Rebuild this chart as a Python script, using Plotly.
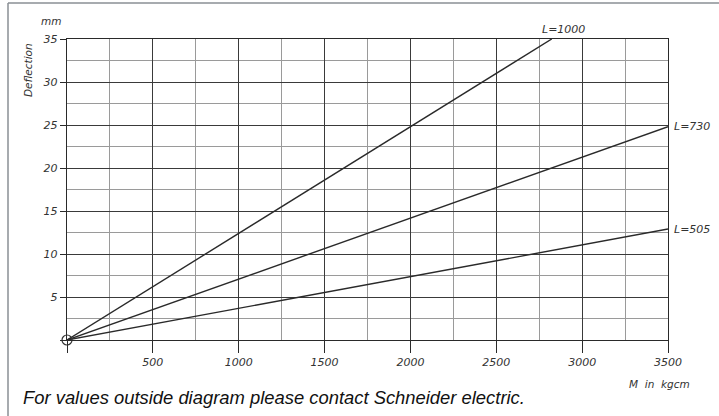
import plotly.graph_objects as go

# Data
series_names = ["L=1000", "L=730", "L=505"]
moment_end = [2823, 3500, 3500]       # M in kgcm at line end
deflection_end = [35.0, 24.8, 12.9]   # mm at line end
x_ticks = [0, 500, 1000, 1500, 2000, 2500, 3000, 3500]
x_ticklabels = ["", "500", "1000", "1500", "2000", "2500", "3000", "3500"]
y_ticks = [0, 5, 10, 15, 20, 25, 30, 35]
y_ticklabels = ["", "5", "10", "15", "20", "25", "30", "35"]

tick_font = dict(family="DejaVu Sans", size=11, color="#333333")

fig = go.Figure()
for name, xe, ye in zip(series_names, moment_end, deflection_end):
    fig.add_trace(go.Scatter(
        x=[0, xe], y=[0, ye], mode="lines", name=name,
        line=dict(color="#2a2a2a", width=1.4), showlegend=False, hoverinfo="skip"))

fig.add_annotation(x=moment_end[0], y=deflection_end[0], text="<i>L=1000</i>", showarrow=False,
                   xanchor="left", yanchor="bottom", xshift=-12, yshift=1, font=tick_font)
for name, xe, ye in zip(series_names[1:], moment_end[1:], deflection_end[1:]):
    fig.add_annotation(x=xe, y=ye, text="<i>" + name + "</i>", showarrow=False,
                       xanchor="left", yanchor="middle", xshift=4, font=tick_font)

fig.add_trace(go.Scatter(x=[0], y=[0], mode="markers",
                         marker=dict(symbol="circle-open", size=10, color="#333", line=dict(width=1.2)),
                         showlegend=False, hoverinfo="skip", cliponaxis=False))

fig.update_xaxes(
    range=[0, 3500], tickvals=x_ticks, ticktext=["<i>%s</i>" % t for t in x_ticklabels],
    showgrid=True, gridcolor="#3a3a3a", gridwidth=1.3,
    minor=dict(tick0=0, dtick=250, showgrid=True, gridcolor="#9a9a9a", gridwidth=1),
    showline=True, linecolor="#2a2a2a", linewidth=1.4, mirror=True,
    ticks="outside", ticklen=12, tickcolor="#2a2a2a", tickwidth=1.3,
    tickfont=tick_font, zeroline=False, fixedrange=True, automargin=False)
fig.update_yaxes(
    range=[0, 35], tickvals=y_ticks, ticktext=["<i>%s</i>" % t for t in y_ticklabels],
    showgrid=True, gridcolor="#3a3a3a", gridwidth=1.3,
    minor=dict(tick0=0, dtick=2.5, showgrid=True, gridcolor="#9a9a9a", gridwidth=1),
    showline=True, linecolor="#2a2a2a", linewidth=1.4, mirror=True,
    ticks="outside", ticklen=6, tickcolor="#2a2a2a", tickwidth=1.3,
    tickfont=tick_font, zeroline=False, fixedrange=True, automargin=False)

W, H = 719, 416
L, R, T, B = 67, 51, 39, 76
pw, ph = W - L - R, H - T - B

def px(x):
    return (x - L) / pw

def py(y):
    return (H - B - y) / ph

fig.add_shape(type="line", xref="paper", yref="paper", x0=px(8), x1=px(719), y0=py(3), y1=py(3),
              line=dict(color="#8a8f94", width=1.5))
fig.add_shape(type="line", xref="paper", yref="paper", x0=px(8), x1=px(8), y0=py(3), y1=py(416),
              line=dict(color="#8a8f94", width=1.5))

label_font = dict(family="DejaVu Sans", size=10.5, color="#333")
fig.add_annotation(xref="paper", yref="paper", x=px(51), y=py(21), text="<i>mm</i>", showarrow=False,
                   xanchor="center", yanchor="middle", font=label_font)
fig.add_annotation(xref="paper", yref="paper", x=px(28), y=py(70), text="<i>Deflection</i>", showarrow=False,
                   xanchor="center", yanchor="middle", textangle=-90, font=label_font)
fig.add_annotation(xref="paper", yref="paper", x=px(659), y=py(384), text="<i>M  in  kgcm</i>", showarrow=False,
                   xanchor="center", yanchor="middle", font=label_font)
fig.add_annotation(xref="paper", yref="paper", x=px(21), y=py(397), xanchor="left", yanchor="middle",
                   text="<i>For values outside diagram please contact Schneider electric.</i>", showarrow=False,
                   font=dict(family="Liberation Sans", size=18.4, color="#111"))

fig.update_layout(width=W, height=H, margin=dict(l=L, r=R, t=T, b=B, autoexpand=False),
                  paper_bgcolor="white", plot_bgcolor="white")
fig.write_html("out.html", config={"displayModeBar": False},
               post_script="document.body.style.margin='0';")
